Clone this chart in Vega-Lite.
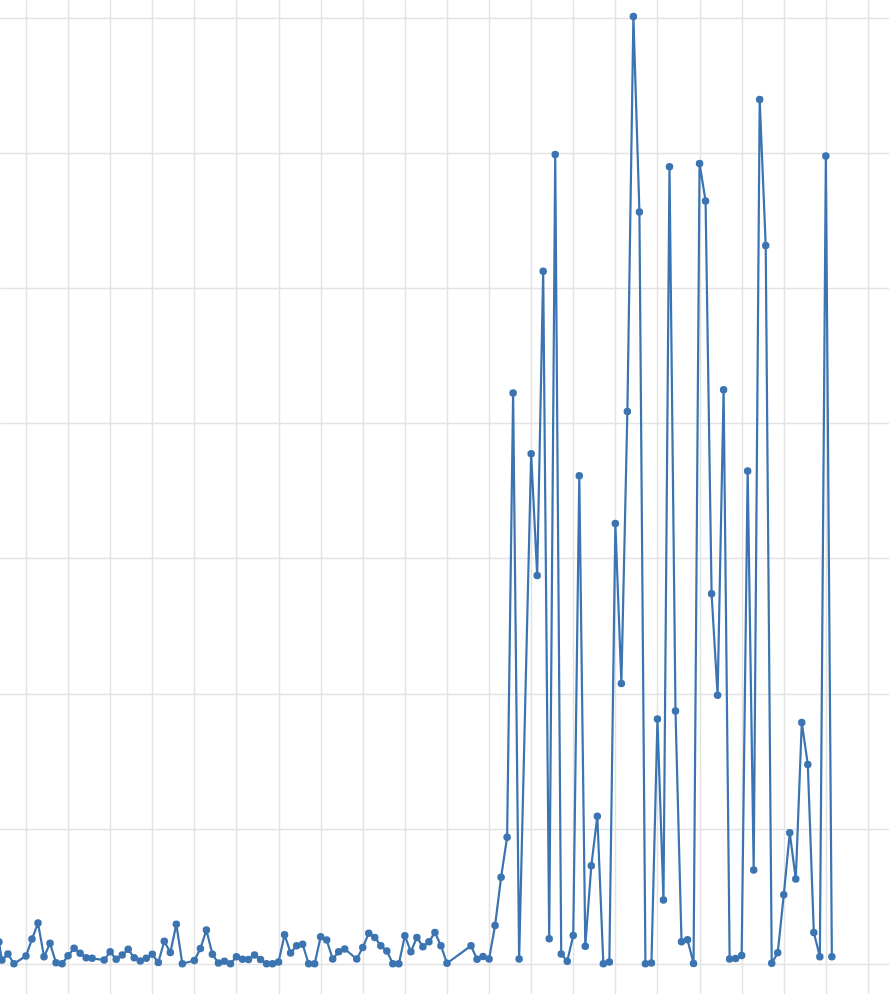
{
  "$schema": "https://vega.github.io/schema/vega-lite/v6.json",
  "width": 889,
  "height": 994,
  "autosize": {"type": "fit", "contains": "padding"},
  "padding": 0,
  "background": "white",
  "config": {"view": {"stroke": null}},
  "data": {
    "values": [
      {"day": -4.5, "value": 1.61}, {"day": -4, "value": 0.27}, {"day": -3, "value": 0.72}, {"day": -2, "value": 0},
      {"day": 0, "value": 0.57}, {"day": 1, "value": 1.83}, {"day": 2, "value": 3.01}, {"day": 3, "value": 0.52},
      {"day": 4, "value": 1.51}, {"day": 5, "value": 0.07}, {"day": 6, "value": 0}, {"day": 7, "value": 0.59},
      {"day": 8, "value": 1.14}, {"day": 9, "value": 0.77}, {"day": 10, "value": 0.44}, {"day": 11, "value": 0.4},
      {"day": 13, "value": 0.27}, {"day": 14, "value": 0.89}, {"day": 15, "value": 0.33}, {"day": 16, "value": 0.64},
      {"day": 17, "value": 1.07}, {"day": 18, "value": 0.44}, {"day": 19, "value": 0.2}, {"day": 20, "value": 0.4},
      {"day": 21, "value": 0.7}, {"day": 22, "value": 0.1}, {"day": 23, "value": 1.66}, {"day": 24, "value": 0.83},
      {"day": 25, "value": 2.92}, {"day": 26, "value": 0}, {"day": 28, "value": 0.24}, {"day": 29, "value": 1.13},
      {"day": 30, "value": 2.49}, {"day": 31, "value": 0.7}, {"day": 32, "value": 0.05}, {"day": 33, "value": 0.18},
      {"day": 34, "value": 0}, {"day": 35, "value": 0.52}, {"day": 36, "value": 0.33}, {"day": 37, "value": 0.31},
      {"day": 38, "value": 0.64}, {"day": 39, "value": 0.31}, {"day": 40, "value": 0}, {"day": 41, "value": 0},
      {"day": 42, "value": 0.13}, {"day": 43, "value": 2.15}, {"day": 44, "value": 0.79}, {"day": 45, "value": 1.33},
      {"day": 46, "value": 1.44}, {"day": 47, "value": 0}, {"day": 48, "value": 0}, {"day": 49, "value": 2.0},
      {"day": 50, "value": 1.75}, {"day": 51, "value": 0.35}, {"day": 52, "value": 0.89}, {"day": 53, "value": 1.09},
      {"day": 55, "value": 0.35}, {"day": 56, "value": 1.21}, {"day": 57, "value": 2.25}, {"day": 58, "value": 1.95},
      {"day": 59, "value": 1.33}, {"day": 60, "value": 0.94}, {"day": 61, "value": 0}, {"day": 62, "value": 0},
      {"day": 63, "value": 2.07}, {"day": 64, "value": 0.89}, {"day": 65, "value": 1.95}, {"day": 66, "value": 1.26},
      {"day": 67, "value": 1.63}, {"day": 68, "value": 2.31}, {"day": 69, "value": 1.33}, {"day": 70, "value": 0.03},
      {"day": 74, "value": 1.33}, {"day": 75, "value": 0.33}, {"day": 76, "value": 0.53}, {"day": 77, "value": 0.35},
      {"day": 78, "value": 2.83}, {"day": 79, "value": 6.4}, {"day": 80, "value": 9.36}, {"day": 81, "value": 42.24},
      {"day": 82, "value": 0.35}, {"day": 84, "value": 37.75}, {"day": 85, "value": 28.74}, {"day": 86, "value": 51.26},
      {"day": 87, "value": 1.85}, {"day": 88, "value": 59.89}, {"day": 89, "value": 0.72}, {"day": 90, "value": 0.19},
      {"day": 91, "value": 2.09}, {"day": 92, "value": 36.11}, {"day": 93, "value": 1.3}, {"day": 94, "value": 7.25},
      {"day": 95, "value": 10.92}, {"day": 96, "value": 0}, {"day": 97, "value": 0.13}, {"day": 98, "value": 32.59},
      {"day": 99, "value": 20.74}, {"day": 100, "value": 40.87}, {"day": 101, "value": 70.11}, {"day": 102, "value": 55.64},
      {"day": 103, "value": 0}, {"day": 104, "value": 0.05}, {"day": 105, "value": 18.11}, {"day": 106, "value": 4.72},
      {"day": 107, "value": 58.99}, {"day": 108, "value": 18.7}, {"day": 109, "value": 1.63}, {"day": 110, "value": 1.77},
      {"day": 111, "value": 0.01}, {"day": 112, "value": 59.23}, {"day": 113, "value": 56.46}, {"day": 114, "value": 27.38},
      {"day": 115, "value": 19.87}, {"day": 116, "value": 42.49}, {"day": 117, "value": 0.35}, {"day": 118, "value": 0.38},
      {"day": 119, "value": 0.61}, {"day": 120, "value": 36.47}, {"day": 121, "value": 6.93}, {"day": 122, "value": 63.97},
      {"day": 123, "value": 53.16}, {"day": 124, "value": 0.04}, {"day": 125, "value": 0.81}, {"day": 126, "value": 5.1},
      {"day": 127, "value": 9.69}, {"day": 128, "value": 6.27}, {"day": 129, "value": 17.85}, {"day": 130, "value": 14.74},
      {"day": 131, "value": 2.32}, {"day": 132, "value": 0.51}, {"day": 133, "value": 59.79}, {"day": 134, "value": 0.51}
    ]
  },
  "mark": {
    "type": "line",
    "color": "#3b74b1",
    "strokeWidth": 2.2,
    "clip": true,
    "point": {"filled": true, "size": 56, "color": "#3b74b1"}
  },
  "encoding": {
    "x": {
      "field": "day",
      "type": "quantitative",
      "scale": {"domain": [-4.32, 143.5], "nice": false, "zero": false},
      "axis": {
        "title": null, "labels": false, "ticks": false, "domain": false,
        "values": [0, 7, 14, 21, 28, 35, 42, 49, 56, 63, 70, 77, 84, 91, 98, 105, 112, 119, 126, 133, 140],
        "grid": true, "gridColor": "#e3e3e3", "gridWidth": 1.5
      }
    },
    "y": {
      "field": "value",
      "type": "quantitative",
      "scale": {"domain": [-2.24, 71.33], "nice": false, "zero": false},
      "axis": {
        "title": null, "labels": false, "ticks": false, "domain": false,
        "values": [0, 10, 20, 30, 40, 50, 60, 70],
        "grid": true, "gridColor": "#e3e3e3", "gridWidth": 1.5
      }
    }
  }
}
